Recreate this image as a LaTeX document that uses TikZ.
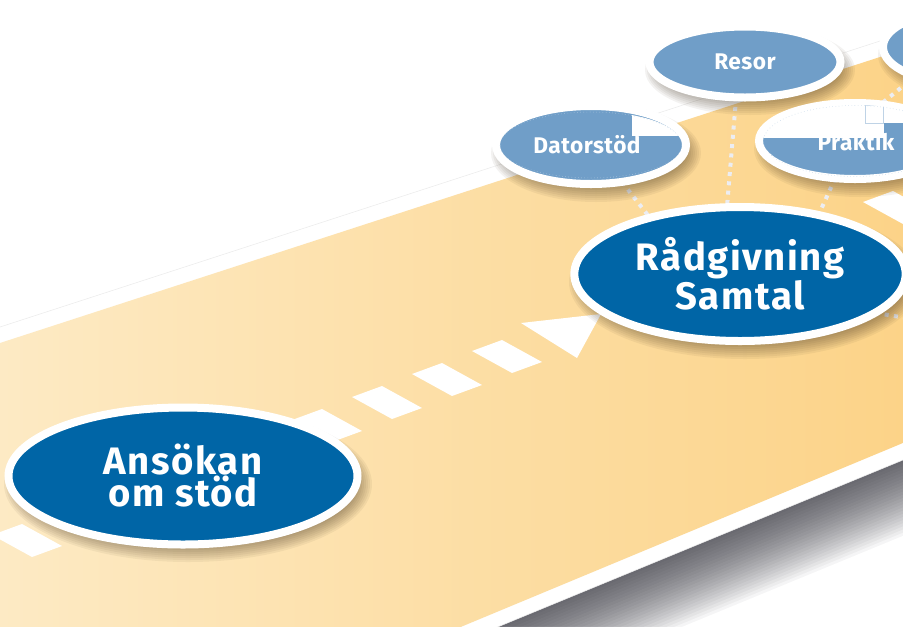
\documentclass[tikz,border=0pt]{standalone}
\usepackage{fontspec}
\setmainfont{Fira Sans}
\newfontfamily\bigfont{Fira Sans}[LetterSpace=4]
\newfontfamily\smallfont{Fira Sans}[LetterSpace=2]
\usetikzlibrary{shapes.geometric,calc}
\definecolor{darkblue}{RGB}{0,101,166}
\definecolor{lightblue}{RGB}{112,158,200}
\definecolor{bandleft}{RGB}{253,234,196}
\definecolor{bandright}{RGB}{252,211,136}
\definecolor{dotgrey}{RGB}{236,237,242}
\definecolor{shadowtone}{RGB}{60,45,25}
\definecolor{bandshadow}{RGB}{40,40,50}
% soft shadow: #1 centre, #2 outer x radius, #3 outer y radius (px units)
\newcommand{\mysoftshadow}[3]{%
  \foreach \i in {0,...,8}{%
    \fill[shadowtone, opacity=0.06] ($(#1)+(5,8)$) ellipse [x radius={#2+6-2*\i}, y radius={#3+6-2*\i}];
  }%
}
\begin{document}
\begin{tikzpicture}[x=0.75pt,y=-0.75pt,
  bigell/.style={ellipse, fill=darkblue, draw=white, line width=6pt, text=white,
    font=\bigfont\fontsize{28.7}{24}\selectfont\bfseries, align=center, inner sep=0pt},
  smallell/.style={ellipse, fill=lightblue, draw=white, line width=6pt, text=white,
    font=\smallfont\fontsize{17}{19}\selectfont\bfseries, inner sep=0pt},
  smalltext/.style={text=white, font=\smallfont\fontsize{17}{19}\selectfont\bfseries, inner sep=0pt},
  dotline/.style={draw=dotgrey, line width=3pt, dash pattern=on 3pt off 4pt},
  dashpiece/.style={fill=white},
  patch/.style={fill=white}
]
\useasboundingbox (0,0) rectangle (903,626);
\clip (0,0) rectangle (903,626);
\fill[white] (0,0) rectangle (903,626);

% band shadow (stacked layers)
\foreach \i in {0,...,23}{
  \fill[bandshadow, opacity=0.045] ({-60+0.4*\i},{346.5+3+3*\i}) -- ({1000+0.4*\i},{2+3+3*\i})
     -- ({1000+0.4*\i},{420+3+3*\i}) -- ({-60+0.4*\i},{856.7+3+3*\i}) -- cycle;
}
% band: white border
\fill[white, draw=black!8, line width=0.4pt]
  (-60,346.5) -- (1000,2) -- (1000,420) -- (-60,856.7) -- cycle;
% band: yellow surface
\begin{scope}
  \clip (-60,362.5) -- (1000,18) -- (1000,402.6) -- (-60,843.6) -- cycle;
  \shade[left color=bandleft, right color=bandright] (0,0) rectangle (903,626);
\end{scope}

% dashed arrow
\foreach \k in {-5,...,3}{
  \fill[dashpiece] ({292+60*\k},{420-23*\k}) -- ++(30,-11) -- ++(40,22) -- ++(-30,11) -- cycle;
}
\fill[dashpiece] (521,323) -- (601,314) -- (577,358) -- cycle;
\fill[dashpiece] (863,202) -- ++(30,-11) -- ++(40,22) -- ++(-30,11) -- cycle;

% node positions
\path (183,476) coordinate (pA) (740,274) coordinate (pR) (591,145) coordinate (pD)
      (745,62) coordinate (pS) (855,141) coordinate (pP) (962,47) coordinate (pT);

% invisible copies used as connector anchors
\node[ellipse, minimum width=248.5pt, minimum height=100.5pt, inner sep=0pt] (rad0) at (pR) {};
\node[ellipse, minimum width=142.5pt, minimum height=58.5pt, inner sep=0pt] (dat0) at (pD) {};
\node[ellipse, minimum width=143.25pt, minimum height=53.25pt, inner sep=0pt] (res0) at (pS) {};
\node[ellipse, minimum width=144pt, minimum height=57pt, inner sep=0pt] (pra0) at (pP) {};
\node[ellipse, minimum width=118.5pt, minimum height=54pt, inner sep=0pt] (top0) at (pT) {};
\coordinate (radout) at (930,322);

% dotted connectors
\draw[dotline] (dat0.-50) -- (rad0.148);
\draw[dotline] (res0.-104) -- (rad0.101);
\draw[dotline] (pra0.-118) -- (rad0.37);
\draw[dotline] (top0.-148) -- (pra0.55);
\draw[dotline] (rad0.-16) -- (radout);

% big ellipses
\mysoftshadow{pA}{178}{72}
\node[bigell, minimum width=261.75pt, minimum height=102.75pt] (ans) at (pA) {Ansökan\\om stöd};
\mysoftshadow{pR}{170}{71}
\node[bigell, minimum width=248.5pt, minimum height=100.5pt, font=\bigfont\fontsize{28.7}{26}\selectfont\bfseries] (rad) at (pR) {Rådgivning\\Samtal};

% small ellipses
\mysoftshadow{pT}{83}{40}
\node[smallell, minimum width=118.5pt, minimum height=54pt] (top) at (pT) {};
\mysoftshadow{pS}{99}{39}
\node[smallell, minimum width=143.25pt, minimum height=53.25pt] (res) at (pS) {Resor};
\mysoftshadow{pD}{99}{43}
\node[smallell, minimum width=142.5pt, minimum height=58.5pt] (dat) at (pD) {};
\mysoftshadow{pP}{100}{42}
\node[smallell, minimum width=144pt, minimum height=57pt] (pra) at (pP) {};

% white patches inside small ellipses
\begin{scope}
  \clip (591,145) ellipse [x radius=91.5, y radius=33.5];
  \fill[patch] (632,100) rectangle (700,136);
  \draw[lightblue!45, line width=0.4pt, dotted] (591,145) ellipse [x radius=91, y radius=33];
\end{scope}
\begin{scope}
  \clip (855,141) ellipse [x radius=92, y radius=36];
  \fill[patch] (740,90) rectangle (883.5,138);
  \fill[patch] (883,90) rectangle (960,123);
  \draw[lightblue!45, line width=0.4pt] (865,105) rectangle (883,123);
  \draw[lightblue!45, line width=0.4pt, dotted] (855,141) ellipse [x radius=91.5, y radius=35.5];
\end{scope}

% small labels
\node[smalltext] (datlabel) at (587,145) {Datorstöd};
\node[smalltext] (pralabel) at (856,141) {Praktik};
\end{tikzpicture}
\end{document}
